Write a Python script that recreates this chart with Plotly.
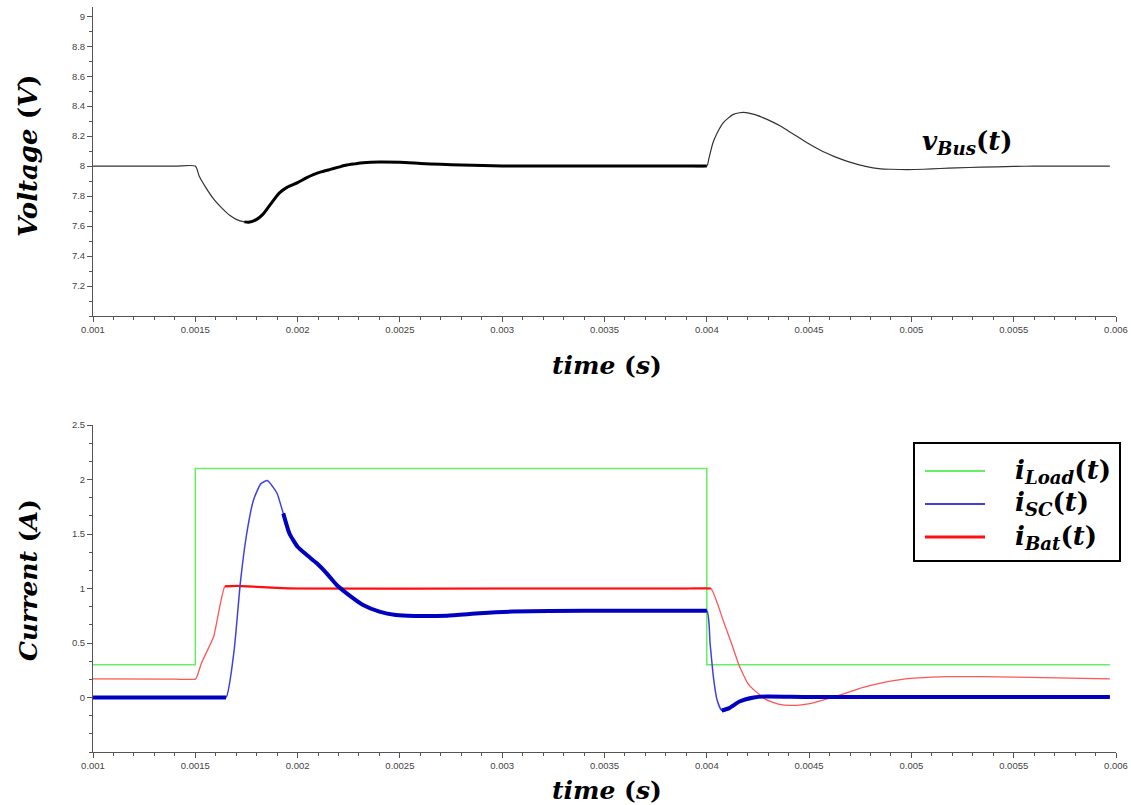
import numpy as np
import plotly.graph_objects as go

# ---------------- data ----------------
t_vbus = [0.001, 0.0014, 0.0015, 0.00152, 0.00155, 0.00159, 0.00163, 0.00167, 0.0017, 0.00174, 0.00176,
          0.0018, 0.00183, 0.00187, 0.00191, 0.00195, 0.002, 0.00204, 0.00208, 0.00212, 0.00216,
          0.0022, 0.00224, 0.00228, 0.00232, 0.0024, 0.0025, 0.0026, 0.0027, 0.0028, 0.003,
          0.0035, 0.0039, 0.004, 0.00401, 0.00403, 0.00405, 0.00408, 0.0041, 0.00413, 0.00416, 0.00418,
          0.0042, 0.00424, 0.00428, 0.00432, 0.00436, 0.0044, 0.00444, 0.00448, 0.00452, 0.00456,
          0.0046, 0.00464, 0.00468, 0.00472, 0.00477, 0.00485, 0.0049, 0.00498, 0.00506, 0.00514,
          0.00522, 0.00534, 0.0055, 0.0056, 0.00597]
v_bus = [8.0, 8.0, 8.0, 7.93, 7.86, 7.78, 7.72, 7.67, 7.645, 7.628, 7.625,
         7.645, 7.678, 7.75, 7.82, 7.86, 7.89, 7.92, 7.945, 7.963, 7.978,
         7.993, 8.007, 8.015, 8.022, 8.027, 8.025, 8.018, 8.012, 8.008, 8.001,
         8.0, 8.0, 8.0, 8.05, 8.156, 8.22, 8.289, 8.315, 8.345, 8.356, 8.358,
         8.355, 8.342, 8.32, 8.295, 8.267, 8.233, 8.2, 8.165, 8.133, 8.103,
         8.078, 8.055, 8.035, 8.018, 8.0, 7.982, 7.979, 7.977, 7.979, 7.984,
         7.988, 7.993, 7.998, 8.0, 8.0]

t_load = [0.001, 0.0015, 0.0015, 0.004, 0.004, 0.00597]
i_load = [0.3, 0.3, 2.1, 2.1, 0.3, 0.3]

t_sc = [0.001, 0.0016, 0.00165, 0.00169, 0.00172, 0.001751, 0.001784, 0.00182, 0.001852, 0.00188, 0.0019,
        0.00193, 0.00196, 0.002, 0.002045, 0.002094, 0.002142, 0.002191, 0.00224, 0.00232, 0.0024,
        0.00248, 0.00257, 0.00273, 0.00289, 0.00305, 0.0034, 0.0039, 0.004, 0.004016, 0.004032, 0.00405,
        0.004073, 0.00411, 0.00416, 0.00423, 0.00429, 0.0045, 0.00597]
i_sc = [0.0, 0.0, 0.0, 0.437, 1.05, 1.5, 1.81, 1.96, 1.99, 1.93, 1.872,
        1.689, 1.505, 1.383, 1.307, 1.231, 1.139, 1.032, 0.956, 0.849, 0.788,
        0.757, 0.748, 0.751, 0.773, 0.788, 0.797, 0.796, 0.795, 0.498, 0.192, -0.021,
        -0.119, -0.097, -0.037, 0.0, 0.009, 0.005, 0.005]

t_bat = [0.001, 0.0014, 0.0015, 0.00151, 0.00153, 0.00159, 0.001645, 0.0017, 0.0018, 0.0019, 0.002,
         0.003, 0.0039, 0.00402, 0.00408, 0.00412, 0.00416, 0.0042, 0.00423, 0.00429, 0.00435, 0.00441,
         0.00447, 0.00452, 0.0046, 0.00468, 0.00476, 0.00485, 0.00493, 0.00501, 0.00514, 0.0052,
         0.00534, 0.0055, 0.00597]
i_bat = [0.17, 0.168, 0.168, 0.2, 0.315, 0.56, 1.02, 1.025, 1.015, 1.005, 1.0,
         1.0, 1.0, 1.0, 0.707, 0.5, 0.284, 0.13, 0.07, -0.02, -0.06, -0.073,
         -0.065, -0.05, -0.006, 0.04, 0.09, 0.132, 0.16, 0.178, 0.19, 0.192,
         0.192, 0.187, 0.17]

x_ticks = [0.001, 0.0015, 0.002, 0.0025, 0.003, 0.0035, 0.004, 0.0045, 0.005, 0.0055, 0.006]
x_tick_labels = ["0.001", "0.0015", "0.002", "0.0025", "0.003", "0.0035", "0.004",
                 "0.0045", "0.005", "0.0055", "0.006"]
v_ticks = [7.2, 7.4, 7.6, 7.8, 8.0, 8.2, 8.4, 8.6, 8.8, 9.0]
v_tick_labels = ["7.2", "7.4", "7.6", "7.8", "8", "8.2", "8.4", "8.6", "8.8", "9"]
i_ticks = [0, 0.5, 1, 1.5, 2, 2.5]
i_tick_labels = ["0", "0.5", "1", "1.5", "2", "2.5"]

# ---------------- layout helpers (page pixel -> paper) ----------------
W, H = 1131, 805
PLOT_L, PLOT_R = 93, 1116    # page pixels of the plot area
L = PLOT_L
R = W - PLOT_R
PW = W - L - R


def px(xp):
    return (xp - L) / PW


def py(yp):
    return min(1.0, max(0.0, (H - yp) / H))


def py_free(yp):
    return (H - yp) / H


def seg(t, y, lo, hi):
    t = np.asarray(t)
    y = np.asarray(y)
    m = (t >= lo) & (t <= hi)
    return t[m], y[m]


fig = go.Figure()

# voltage
fig.add_trace(go.Scatter(x=t_vbus, y=v_bus, mode="lines",
                         line=dict(color="#333333", width=1.2, shape="spline", smoothing=0.6),
                         xaxis="x", yaxis="y", showlegend=False, hoverinfo="skip"))
tv, vv = seg(t_vbus, v_bus, 0.00172, 0.004)
fig.add_trace(go.Scatter(x=tv, y=vv, mode="lines",
                         line=dict(color="#000000", width=3, shape="spline", smoothing=0.6),
                         xaxis="x", yaxis="y", showlegend=False, hoverinfo="skip"))

# currents
fig.add_trace(go.Scatter(x=t_load, y=i_load, mode="lines", line=dict(color="#66ee66", width=1.5),
                         xaxis="x2", yaxis="y2", showlegend=False))
fig.add_trace(go.Scatter(x=t_bat, y=i_bat, mode="lines",
                         line=dict(color="#ff5555", width=1.3, shape="spline", smoothing=0.4),
                         xaxis="x2", yaxis="y2", showlegend=False))
tb, ib = seg(t_bat, i_bat, 0.001645, 0.00402)
fig.add_trace(go.Scatter(x=tb, y=ib, mode="lines",
                         line=dict(color="#ff1010", width=2.2, shape="spline", smoothing=0.4),
                         xaxis="x2", yaxis="y2", showlegend=False))
fig.add_trace(go.Scatter(x=t_sc, y=i_sc, mode="lines",
                         line=dict(color="#4040e0", width=1.5, shape="spline", smoothing=0.5),
                         xaxis="x2", yaxis="y2", showlegend=False))
for lo, hi in [(0.001, 0.00165), (0.00193, 0.004), (0.004073, 0.006)]:
    ts, isc = seg(t_sc, i_sc, lo, hi)
    fig.add_trace(go.Scatter(x=ts, y=isc, mode="lines",
                             line=dict(color="#0000c0", width=4, shape="spline", smoothing=0.5),
                             xaxis="x2", yaxis="y2", showlegend=False))

axis_common = dict(
    showline=True, linecolor="#555555", linewidth=1, ticks="outside", ticklen=5,
    tickcolor="#555555", showgrid=False, zeroline=False, mirror=False,
    tickfont=dict(family="Arial, Liberation Sans, sans-serif", size=9.5, color="#444444"),
)

fig.update_layout(
    width=W, height=H,
    margin=dict(l=L, r=R, t=0, b=0),
    paper_bgcolor="white", plot_bgcolor="white",
    template="none",
    xaxis=dict(domain=[0, 1], anchor="y", range=[0.001, 0.006], tickmode="array",
               tickvals=x_ticks, ticktext=x_tick_labels, ticklabeloverflow="allow",
               minor=dict(tick0=0.001, dtick=0.0001, ticks="outside", ticklen=3, tickcolor="#555555"),
               **axis_common),
    yaxis=dict(domain=[py(316), py(6.5)], anchor="x", range=[7.0, 9.065], tickmode="array",
               tickvals=v_ticks, ticktext=v_tick_labels,
               minor=dict(tick0=7.0, dtick=0.1, ticks="outside", ticklen=3, tickcolor="#555555"),
               **axis_common),
    xaxis2=dict(domain=[0, 1], anchor="y2", range=[0.001, 0.006], tickmode="array",
                tickvals=x_ticks, ticktext=x_tick_labels, ticklabeloverflow="allow",
                minor=dict(tick0=0.001, dtick=0.0001, ticks="outside", ticklen=3, tickcolor="#555555"),
                **axis_common),
    yaxis2=dict(domain=[py(752), py(425)], anchor="x2", range=[-0.5, 2.5], tickmode="array",
                tickvals=i_ticks, ticktext=i_tick_labels,
                minor=dict(tick0=0, dtick=0.5 / 3, ticks="outside", ticklen=3, tickcolor="#555555"),
                **axis_common),
)

ann = []


def add_text(txt, xp, yp, size, angle=0, xanchor="center"):
    ann.append(dict(text=txt, x=px(xp), y=py_free(yp), textangle=angle, xref="paper", yref="paper",
                    xanchor=xanchor, yanchor="middle", showarrow=False,
                    font=dict(family="DejaVu Serif", size=size, color="black")))


add_text("<b><i>Voltage</i> (<i>V</i>)</b>", 28, 156, 26, angle=-90)
add_text("<b><i>Current</i> (<i>A</i>)</b>", 28, 580, 25, angle=-90)
add_text("<b><i>time</i> (<i>s</i>)</b>", 607, 365, 25)
add_text("<b><i>time</i> (<i>s</i>)</b>", 607, 790, 25)
add_text("<b><i>v</i><sub><i>Bus</i></sub>(<i>t</i>)</b>", 967, 143, 26)

# manual legend
shapes = [dict(type="rect", xref="paper", yref="paper", x0=px(914), x1=px(1120), y0=py(561), y1=py(443),
               line=dict(color="black", width=2), fillcolor="white", layer="above")]
leg = [("#66ee66", 1.8, 471, "<b><i>i</i><sub><i>Load</i></sub>(<i>t</i>)</b>"),
       ("#4040e0", 1.8, 504, "<b><i>i</i><sub><i>SC</i></sub>(<i>t</i>)</b>"),
       ("#ff1010", 3.0, 537, "<b><i>i</i><sub><i>Bat</i></sub>(<i>t</i>)</b>")]
for col, w, yy, txt in leg:
    shapes.append(dict(type="line", xref="paper", yref="paper", x0=px(925), x1=px(985), y0=py(yy), y1=py(yy),
                       line=dict(color=col, width=w), layer="above"))
    add_text(txt, 1013, yy, 26, xanchor="left")

fig.update_layout(annotations=ann, shapes=shapes)
fig.write_html("out.html", config={"displayModeBar": False},
               post_script="document.body.style.margin='0';")
